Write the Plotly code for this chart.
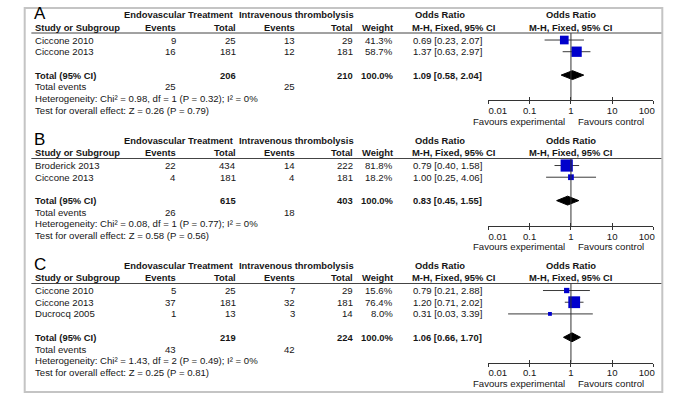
import math
import plotly.graph_objects as go

FONT = 'Liberation Sans, Arial, sans-serif'
W, H = 683, 401

# ----------------------------------- Data -----------------------------------
letters = ['A', 'B', 'C']

## Panel A
a_study = ['Ciccone 2010', 'Ciccone 2013']
a_endo_events = [9, 16]
a_endo_total = [25, 181]
a_iv_events = [13, 12]
a_iv_total = [29, 181]
a_weight = [41.3, 58.7]
a_or = [0.69, 1.37]
a_lo = [0.23, 0.63]
a_hi = [2.07, 2.97]
a_pooled = [1.09, 0.58, 2.04]          # OR, lower, upper
a_totals = [206, 210, 25, 25]          # total endo, total iv, events endo, events iv
a_het = ['0.98', '1', '0.32', '0%']    # chi2, df, P, I2
a_test = ['0.26', '0.79']              # Z, P

## Panel B
b_study = ['Broderick 2013', 'Ciccone 2013']
b_endo_events = [22, 4]
b_endo_total = [434, 181]
b_iv_events = [14, 4]
b_iv_total = [222, 181]
b_weight = [81.8, 18.2]
b_or = [0.79, 1.00]
b_lo = [0.40, 0.25]
b_hi = [1.58, 4.06]
b_pooled = [0.83, 0.45, 1.55]
b_totals = [615, 403, 26, 18]
b_het = ['0.08', '1', '0.77', '0%']
b_test = ['0.58', '0.56']

## Panel C
c_study = ['Ciccone 2010', 'Ciccone 2013', 'Ducrocq 2005']
c_endo_events = [5, 37, 1]
c_endo_total = [25, 181, 13]
c_iv_events = [7, 32, 3]
c_iv_total = [29, 181, 14]
c_weight = [15.6, 76.4, 8.0]
c_or = [0.79, 1.20, 0.31]
c_lo = [0.21, 0.71, 0.03]
c_hi = [2.88, 2.02, 3.39]
c_pooled = [1.06, 0.66, 1.70]
c_totals = [219, 224, 43, 42]
c_het = ['1.43', '2', '0.49', '0%']
c_test = ['0.25', '0.81']

tick_vals = [0.01, 0.1, 1, 10, 100]
tick_text = ['0.01', '0.1', '1', '10', '100']

panels = [
    (a_study, a_endo_events, a_endo_total, a_iv_events, a_iv_total, a_weight, a_or, a_lo, a_hi, a_pooled, a_totals, a_het, a_test),
    (b_study, b_endo_events, b_endo_total, b_iv_events, b_iv_total, b_weight, b_or, b_lo, b_hi, b_pooled, b_totals, b_het, b_test),
    (c_study, c_endo_events, c_endo_total, c_iv_events, c_iv_total, c_weight, c_or, c_lo, c_hi, c_pooled, c_totals, c_het, c_test),
]

# ----------------------------------- Layout helpers -----------------------------------
TOPS = [33, 158.5, 283.5]   # y (px) of the header rule of each panel
ROW = 11.7                  # row height in px
REG = 9.6
BOLD = 9.4

# column x positions (px)
STUDY_X, EV1_X, TOT1_X, EV2_X, TOT2_X, WT_X, OR_X = 15, 167, 230, 293, 354, 396, 413
PLOT_X0, PLOT_X1 = 494, 667.7
ONE_X = (PLOT_X0 + PLOT_X1) / 2


def px_x(x):
    return x / W


def px_y(y):
    return 1 - y / H


def row_px(p, idx):
    return TOPS[p] + 7 + ROW * idx


fig = go.Figure()


def add_text(txt, x, y_px, anchor='left', bold=False, size=None, color='#161616'):
    fig.add_annotation(
        text='<b>%s</b>' % txt if bold else txt,
        x=px_x(x), y=px_y(y_px), xref='paper', yref='paper',
        xanchor=anchor, yanchor='middle', showarrow=False,
        font=dict(family=FONT, size=size or (BOLD if bold else REG), color=color))


layout = dict(
    width=W, height=H,
    margin=dict(l=0, r=0, t=0, b=0),
    paper_bgcolor='white', plot_bgcolor='rgba(0,0,0,0)',
    showlegend=False,
)

for p, (study, ev1, tot1, ev2, tot2, wt, orr, lo, hi, pooled, totals, het, test) in enumerate(panels):
    n = len(study)
    k = '' if p == 0 else str(p + 1)
    xo = str(p + 4)
    axis_idx = n + 3.17
    axis_px = row_px(p, axis_idx)

    ## axes for the forest plot of this panel
    axis_common = dict(
        type='log', range=[-2.0005, 2.0005], domain=[px_x(PLOT_X0), px_x(PLOT_X1)],
        tickvals=tick_vals, showgrid=False, zeroline=False, fixedrange=True,
        tickcolor='#333', ticklen=3, tickwidth=1,
    )
    layout['xaxis' + k] = dict(
        axis_common, anchor='y' + k, ticks='outside', showline=True,
        linecolor='#333', linewidth=1, ticklabelstandoff=-2,
        ticklabeloverflow='allow',
        ticktext=['\u00a0' * 7 + tick_text[0]] + tick_text[1:4] + [tick_text[4] + '\u00a0' * 5],
        tickfont=dict(family=FONT, size=REG, color='#161616'),
    )
    layout['xaxis' + xo] = dict(
        axis_common, anchor='y' + k, overlaying='x' + k, ticks='inside',
        showticklabels=False, showline=False,
    )
    layout['yaxis' + k] = dict(
        domain=[px_y(axis_px), px_y(TOPS[p])], range=[axis_idx, -0.6],
        visible=False, fixedrange=True,
    )

    ## study squares with CI whiskers
    fig.add_trace(go.Scatter(
        x=orr, y=list(range(n)), mode='markers', cliponaxis=False,
        marker=dict(symbol='square', size=[1.35 * math.sqrt(w) for w in wt],
                    color='#0000cc', opacity=1, line=dict(width=0)),
        error_x=dict(type='data', symmetric=False,
                     array=[h - o for h, o in zip(hi, orr)],
                     arrayminus=[o - l for o, l in zip(orr, lo)],
                     color='#3a3a3a', thickness=1, width=0),
        xaxis='x' + k, yaxis='y' + k, hoverinfo='skip'))

    ## pooled diamond
    r, dh = n + 1, 0.38
    fig.add_trace(go.Scatter(
        x=[pooled[1], pooled[0], pooled[2], pooled[0], pooled[1]],
        y=[r, r - dh, r, r + dh, r], mode='lines', fill='toself',
        fillcolor='black', line=dict(color='black', width=1), cliponaxis=False,
        xaxis='x' + xo, yaxis='y' + k, hoverinfo='skip'))

    ## line of no effect
    fig.add_shape(type='line', xref='x' + k, yref='y' + k + ' domain',
                  x0=1, x1=1, y0=0, y1=1, line=dict(color='#333', width=1))

    ## header rule
    fig.add_shape(type='line', xref='paper', yref='paper',
                  x0=px_x(13), x1=px_x(677), y0=px_y(TOPS[p]), y1=px_y(TOPS[p]),
                  line=dict(color='#444', width=1))

    ## headers
    h1, h2 = row_px(p, -2.15), row_px(p, -1.08)
    add_text(letters[p], 14, h1 - 1, size=17, color='black')
    add_text('Endovascular Treatment', 168, h1, 'center', bold=True)
    add_text('Intravenous thrombolysis', 292, h1, 'center', bold=True)
    add_text('Odds Ratio', 443, h1, 'center', bold=True)
    add_text('Odds Ratio', ONE_X, h1, 'center', bold=True)
    add_text('Study or Subgroup', STUDY_X, h2, bold=True)
    add_text('Events', EV1_X, h2, 'right', bold=True)
    add_text('Total', TOT1_X, h2, 'right', bold=True)
    add_text('Events', EV2_X, h2, 'right', bold=True)
    add_text('Total', TOT2_X, h2, 'right', bold=True)
    add_text('Weight', WT_X, h2, 'right', bold=True)
    add_text('M-H, Fixed, 95% CI', 411, h2, bold=True)
    add_text('M-H, Fixed, 95% CI', ONE_X, h2, 'center', bold=True)

    ## study rows
    for i in range(n):
        y = row_px(p, i)
        add_text(study[i], STUDY_X, y)
        add_text(str(ev1[i]), EV1_X, y, 'right')
        add_text(str(tot1[i]), TOT1_X, y, 'right')
        add_text(str(ev2[i]), EV2_X, y, 'right')
        add_text(str(tot2[i]), TOT2_X, y, 'right')
        add_text('%.1f%%' % wt[i], WT_X, y, 'right')
        add_text('%.2f [%.2f, %.2f]' % (orr[i], lo[i], hi[i]), OR_X, y)

    ## totals
    y = row_px(p, n + 1)
    add_text('Total (95% CI)', STUDY_X, y, bold=True)
    add_text(str(totals[0]), TOT1_X, y, 'right', bold=True)
    add_text(str(totals[1]), TOT2_X, y, 'right', bold=True)
    add_text('100.0%', WT_X, y, 'right', bold=True)
    add_text('%.2f [%.2f, %.2f]' % tuple(pooled), OR_X, y, bold=True)
    y = row_px(p, n + 2)
    add_text('Total events', STUDY_X, y)
    add_text(str(totals[2]), EV1_X, y, 'right')
    add_text(str(totals[3]), EV2_X, y, 'right')
    add_text('Heterogeneity: Chi² = %s, df = %s (P = %s); I² = %s' % tuple(het), STUDY_X, row_px(p, n + 3))
    add_text('Test for overall effect: Z = %s (P = %s)' % tuple(test), STUDY_X, row_px(p, n + 4))

    ## favours labels
    add_text('Favours experimental', ONE_X - 4, axis_px + 21, 'right')
    add_text('Favours control', ONE_X + 5, axis_px + 21, 'left')

# outer frame
fig.add_shape(type='rect', xref='paper', yref='paper',
              x0=px_x(6), x1=px_x(677), y0=px_y(392), y1=px_y(8),
              line=dict(color='#c4c4c4', width=2))

fig.update_layout(**layout)
# drop the default page margin so the figure sits at the window's top-left corner
fig.write_html('out.html', config={'displayModeBar': False},
               post_script="document.body.style.margin='0';")
